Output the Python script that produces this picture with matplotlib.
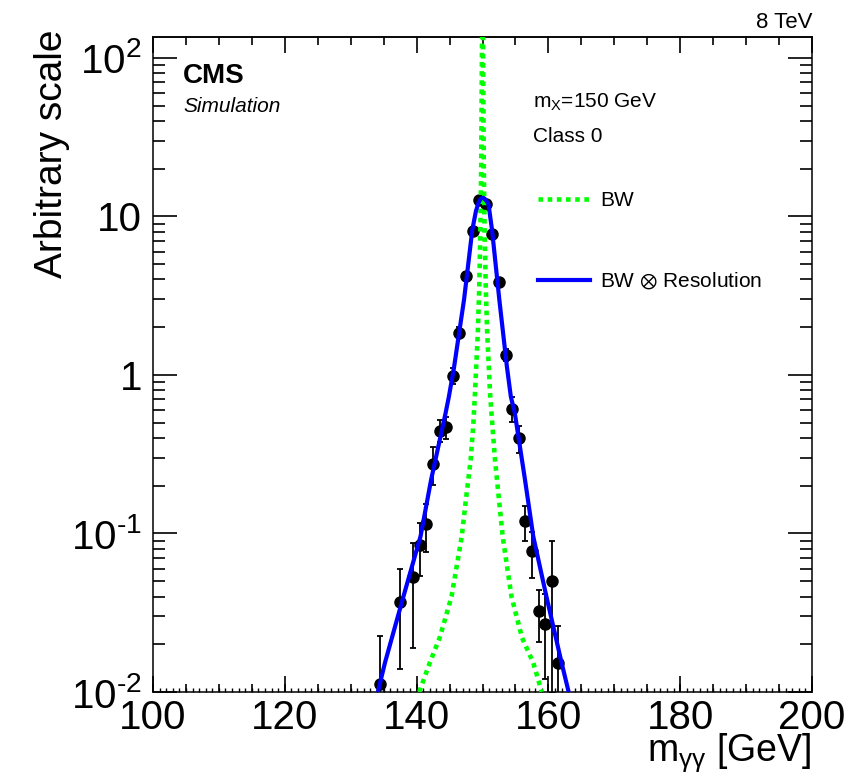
import matplotlib
matplotlib.use('Agg')
import matplotlib.pyplot as plt
from matplotlib.ticker import MultipleLocator, FixedLocator, FixedFormatter, LogLocator, NullFormatter

plt.rcParams['font.family'] = ['Liberation Sans', 'DejaVu Sans']
plt.rcParams['mathtext.fontset'] = 'custom'
plt.rcParams['mathtext.rm'] = 'Liberation Sans'
plt.rcParams['mathtext.it'] = 'Liberation Sans:italic'
plt.rcParams['mathtext.bf'] = 'Liberation Sans:bold'
plt.rcParams['mathtext.default'] = 'regular'

# simulated diphoton mass, 1 GeV bins (empty bins left out)
mass = [134.5, 137.5, 139.5, 140.5, 141.5, 142.5, 143.5, 144.5, 145.5, 146.5,
        147.5, 148.5, 149.5, 150.5, 151.5, 152.5, 153.5, 154.5, 155.5, 156.5,
        157.5, 158.5, 159.5, 160.5, 161.5]
yields = [0.0113, 0.037, 0.053, 0.085, 0.115, 0.275, 0.446, 0.469, 0.99, 1.85,
          4.23, 8.13, 12.6, 12.05, 7.75, 3.87, 1.34, 0.612, 0.398, 0.119,
          0.0776, 0.0322, 0.0268, 0.0498, 0.0152]
yield_err = [0.0113, 0.023, 0.034, 0.031, 0.039, 0.074, 0.07, 0.075, 0.11, 0.15,
             0.22, 0.3, 0.37, 0.37, 0.29, 0.2, 0.12, 0.11, 0.075, 0.03,
             0.025, 0.0115, 0.0148, 0.040, 0.011]

# Breit-Wigner line shape
bw_mass = [140.4, 142.0, 143.5, 145.3, 146.84, 147.6, 148.2, 148.6, 148.86, 149.3,
           149.5, 149.65, 149.8, 149.92, 150.0, 150.08, 150.2, 150.35, 150.5, 150.7,
           151.14, 151.5, 151.9, 152.4, 153.07, 154.4, 156.0, 157.7, 159.0]
bw_val = [0.010, 0.0153, 0.022, 0.040, 0.095, 0.18, 0.29, 0.48, 0.77, 1.9,
          3.5, 7.0, 20, 120, 1000, 120, 20, 7.0, 3.5, 1.9,
          0.77, 0.48, 0.29, 0.18, 0.095, 0.040, 0.022, 0.0153, 0.010]

# Breit-Wigner convolved with the detector resolution
conv_mass = [134.2, 135.2, 138.0, 140.6, 142.2, 144.4, 144.9, 145.7, 147.2, 148.45,
             149.0, 149.4, 149.7, 149.9, 150.05, 150.2, 150.4, 150.9, 151.45, 152.55,
             153.7, 154.3, 154.9, 156.45, 157.7, 159.7, 162.0, 163.0]
conv_val = [0.0103, 0.0153, 0.040, 0.096, 0.218, 0.575, 0.73, 1.13, 2.99, 8.2,
            10.8, 12.2, 12.85, 13.05, 13.1, 13.05, 12.85, 12.0, 8.2, 2.99,
            1.13, 0.73, 0.575, 0.218, 0.096, 0.040, 0.0153, 0.0103]

ytick_vals = [0.01, 0.1, 1, 10, 100]
ytick_text = ['$10^{\u2010 2}$', '$10^{\u2010 1}$', '1', '10', '$10^{2}$']

W, H = 858, 776
fig = plt.figure(figsize=(W / 100, H / 100), dpi=100)
ax = fig.add_axes([153 / W, 84 / H, 659 / W, 655.3 / H])

ax.errorbar(mass, yields, yerr=yield_err, fmt='o', color='black', ms=8,
            elinewidth=1.3, capsize=2.5, capthick=1.3, zorder=2)
bw_line, = ax.plot(bw_mass, bw_val, color='#00ff00', lw=3.3, linestyle=(0, (1, 1)),
                   dash_capstyle='butt', label='BW', zorder=3)
conv_line, = ax.plot(conv_mass, conv_val, color='#0000ff', lw=3, label=r'BW $\otimes$ Resolution',
                     zorder=4)

ax.set_xlim(100, 200)
ax.set_yscale('log')
ax.set_ylim(0.01, 136)

for s in ax.spines.values():
    s.set_linewidth(1.1)

# x axis: labelled ticks every 20, fine ticks every 1
ax.xaxis.set_major_locator(MultipleLocator(20))
ax.xaxis.set_minor_locator(MultipleLocator(1))
ax.tick_params(axis='x', which='major', direction='in', length=11.5, width=1.2,
               labelsize=29, pad=5, top=False)
ax.tick_params(axis='x', which='minor', direction='in', length=2.9, width=1.0, top=False)

mid = ax.secondary_xaxis('bottom')
mid.xaxis.set_major_locator(MultipleLocator(5))
mid.tick_params(direction='in', length=5.8, width=1.2, labelbottom=False)
mid.spines['bottom'].set_visible(False)

top = ax.secondary_xaxis('top')
top.xaxis.set_major_locator(MultipleLocator(20))
top.xaxis.set_minor_locator(MultipleLocator(5))
top.tick_params(which='major', direction='in', length=11.5, width=1.2, labeltop=False)
top.tick_params(which='minor', direction='in', length=5.8, width=1.2)
top.spines['top'].set_linewidth(1.1)

# y axis: decades on both sides
ax.yaxis.set_major_locator(FixedLocator(ytick_vals))
ax.yaxis.set_major_formatter(FixedFormatter(ytick_text))
ax.yaxis.set_minor_locator(LogLocator(base=10, subs=range(2, 10)))
ax.yaxis.set_minor_formatter(NullFormatter())
ax.tick_params(axis='y', which='major', direction='in', length=17.3, width=1.2,
               labelsize=29, pad=8, right=True)
ax.tick_params(axis='y', which='minor', direction='in', length=8.6, width=1.2, right=True)

fig.text(52 / W, 1 - 30 / H, 'Arbitrary scale', rotation=90, ha='center', va='top', size=28)
fig.text(812 / W, 1 - 761 / H, r'm$_{\gamma\gamma}$ [GeV]', ha='right', va='baseline', size=27)

fig.text(812 / W, 1 - 28 / H, '8 TeV', ha='right', va='baseline', size=16)
fig.text(183 / W, 1 - 83 / H, 'CMS', ha='left', va='baseline', size=20, weight='bold')
fig.text(183 / W, 1 - 111.7 / H, 'Simulation', ha='left', va='baseline', size=15, style='italic')
fig.text(533 / W, 1 - 108 / H, r'm$_{X}$=150 GeV', ha='left', va='baseline', size=15)
fig.text(533 / W, 1 - 141.7 / H, 'Class 0', ha='left', va='baseline', size=15)

ax.legend(handles=[bw_line, conv_line], loc='upper left', bbox_to_anchor=(538 / W, 1 - 191 / H),
          bbox_transform=fig.transFigure, frameon=False, fontsize=15, handlelength=2.5,
          handletextpad=0.5, labelspacing=2.9, borderpad=0, borderaxespad=0)

fig.savefig('out.png', dpi=100)
